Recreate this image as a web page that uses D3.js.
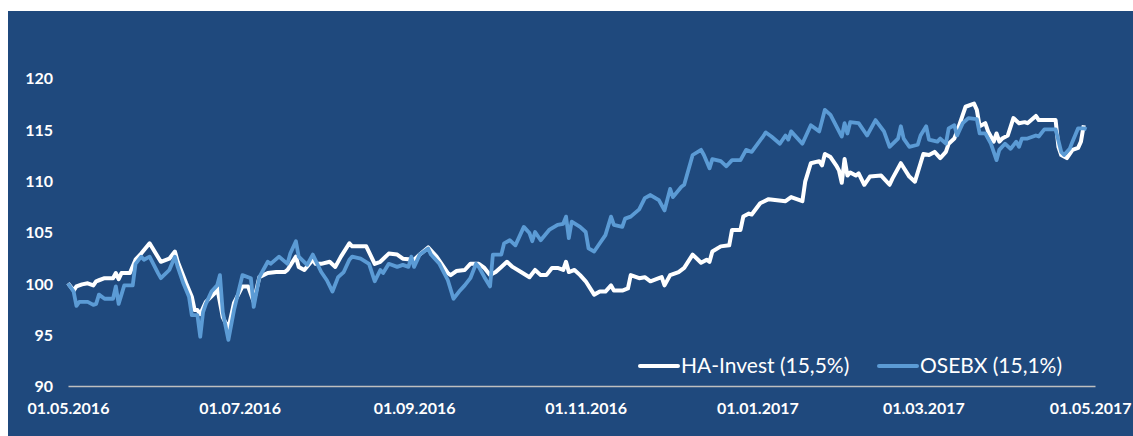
<!DOCTYPE html>
<html>
<head>
<meta charset="utf-8">
<script src="https://d3js.org/d3.v7.min.js"></script>
<style>
    body { margin: 0; background: #ffffff; }
    text { font-family: Lato, "Open Sans", sans-serif; }
</style>
</head>
<body>
<div id="chart"></div>
<script>
/* * * * * * * * * * * * * *
*          DATA             *
* * * * * * * * * * * * * */

var seriesNames = ["HA-Invest (15,5%)", "OSEBX (15,1%)"];

var haDates = [
    "01.05.2016","03.05.2016","04.05.2016","06.05.2016","08.05.2016","10.05.2016","11.05.2016","12.05.2016","14.05.2016","17.05.2016",
    "18.05.2016","19.05.2016","20.05.2016","23.05.2016","25.05.2016","27.05.2016","30.05.2016","03.06.2016","06.06.2016","08.06.2016",
    "09.06.2016","12.06.2016","14.06.2016","15.06.2016","16.06.2016","17.06.2016","19.06.2016","22.06.2016","23.06.2016","25.06.2016",
    "27.06.2016","29.06.2016","02.07.2016","04.07.2016","06.07.2016","08.07.2016","11.07.2016","14.07.2016","17.07.2016","18.07.2016",
    "21.07.2016","22.07.2016","24.07.2016","27.07.2016","28.07.2016","30.07.2016","02.08.2016","04.08.2016","06.08.2016","09.08.2016",
    "10.08.2016","13.08.2016","15.08.2016","18.08.2016","20.08.2016","23.08.2016","26.08.2016","28.08.2016","01.09.2016","03.09.2016",
    "06.09.2016","09.09.2016","13.09.2016","14.09.2016","16.09.2016","19.09.2016","21.09.2016","24.09.2016","26.09.2016","28.09.2016",
    "30.09.2016","02.10.2016","04.10.2016","06.10.2016","09.10.2016","12.10.2016","14.10.2016","16.10.2016","18.10.2016","20.10.2016",
    "22.10.2016","24.10.2016","25.10.2016","26.10.2016","28.10.2016","30.10.2016","01.11.2016","04.11.2016","06.11.2016","08.11.2016",
    "10.11.2016","11.11.2016","14.11.2016","16.11.2016","17.11.2016","20.11.2016","22.11.2016","24.11.2016","27.11.2016","28.11.2016",
    "29.11.2016","01.12.2016","04.12.2016","06.12.2016","09.12.2016","12.12.2016","14.12.2016","15.12.2016","16.12.2016","19.12.2016",
    "22.12.2016","23.12.2016","26.12.2016","27.12.2016","29.12.2016","30.12.2016","02.01.2017","05.01.2017","08.01.2017","11.01.2017",
    "13.01.2017","17.01.2017","18.01.2017","20.01.2017","23.01.2017","24.01.2017","25.01.2017","27.01.2017","29.01.2017","30.01.2017",
    "31.01.2017","01.02.2017","02.02.2017","03.02.2017","05.02.2017","06.02.2017","08.02.2017","10.02.2017","14.02.2017","17.02.2017",
    "18.02.2017","21.02.2017","24.02.2017","26.02.2017","01.03.2017","03.03.2017","05.03.2017","07.03.2017","09.03.2017","10.03.2017",
    "12.03.2017","13.03.2017","15.03.2017","16.03.2017","19.03.2017","20.03.2017","21.03.2017","23.03.2017","24.03.2017","26.03.2017",
    "27.03.2017","28.03.2017","29.03.2017","31.03.2017","02.04.2017","04.04.2017","06.04.2017","07.04.2017","10.04.2017","11.04.2017",
    "15.04.2017","17.04.2017","18.04.2017","19.04.2017","21.04.2017","23.04.2017","25.04.2017","26.04.2017","27.04.2017"
];
var haValues = [
    100.0, 99.3, 99.7, 99.9, 100.0, 99.8, 100.2, 100.3, 100.5, 100.5,
    101.0, 100.4, 101.0, 101.0, 102.3, 102.9, 103.9, 102.1, 102.4, 103.1,
    102.1, 100.0, 98.7, 97.4, 97.4, 97.0, 98.2, 99.0, 99.6, 96.7,
    95.6, 98.1, 99.7, 99.7, 98.2, 100.6, 101.0, 101.1, 101.1, 101.3,
    102.6, 101.6, 101.3, 102.3, 101.9, 101.9, 102.1, 101.6, 102.6, 103.9,
    103.6, 103.6, 103.6, 101.9, 102.1, 102.9, 102.8, 102.4, 102.3, 102.8,
    103.5, 102.6, 101.0, 100.8, 101.2, 101.3, 101.9, 101.9, 101.5, 100.8,
    101.1, 101.6, 102.1, 101.6, 101.1, 100.6, 101.3, 100.8, 100.8, 101.5,
    101.5, 101.3, 102.1, 101.1, 101.3, 100.8, 100.2, 98.9, 99.2, 99.2,
    99.8, 99.3, 99.3, 99.5, 100.8, 100.5, 100.6, 100.2, 100.5, 100.6,
    99.8, 100.8, 101.1, 101.5, 102.8, 102.0, 102.3, 102.1, 103.1, 103.6,
    103.7, 105.2, 105.2, 106.5, 106.8, 106.7, 107.8, 108.2, 108.1, 108.0,
    108.4, 108.0, 109.9, 111.7, 111.9, 111.5, 112.6, 112.3, 111.5, 111.0,
    109.8, 112.1, 110.5, 110.8, 110.5, 110.7, 109.6, 110.4, 110.5, 109.6,
    110.2, 111.7, 110.4, 109.9, 112.6, 112.5, 112.8, 112.2, 112.8, 113.6,
    114.1, 114.8, 116.4, 117.2, 117.5, 116.9, 115.3, 115.6, 114.8, 113.8,
    114.6, 113.8, 114.1, 114.4, 116.1, 115.6, 115.7, 115.6, 116.3, 115.9,
    115.9, 115.9, 113.3, 112.5, 112.2, 113.0, 113.2, 113.8, 115.4
];

var osebxDates = [
    "01.05.2016","03.05.2016","04.05.2016","05.05.2016","08.05.2016","10.05.2016","11.05.2016","12.05.2016","14.05.2016","17.05.2016",
    "18.05.2016","19.05.2016","21.05.2016","24.05.2016","25.05.2016","27.05.2016","28.05.2016","30.05.2016","02.06.2016","03.06.2016",
    "06.06.2016","08.06.2016","09.06.2016","11.06.2016","13.06.2016","14.06.2016","16.06.2016","17.06.2016","18.06.2016","19.06.2016",
    "21.06.2016","23.06.2016","24.06.2016","25.06.2016","27.06.2016","29.06.2016","02.07.2016","05.07.2016","06.07.2016","08.07.2016",
    "11.07.2016","12.07.2016","15.07.2016","18.07.2016","19.07.2016","21.07.2016","22.07.2016","25.07.2016","27.07.2016","30.07.2016",
    "01.08.2016","03.08.2016","05.08.2016","07.08.2016","09.08.2016","10.08.2016","13.08.2016","16.08.2016","18.08.2016","20.08.2016",
    "21.08.2016","23.08.2016","26.08.2016","28.08.2016","30.08.2016","31.08.2016","01.09.2016","03.09.2016","06.09.2016","07.09.2016",
    "10.09.2016","13.09.2016","14.09.2016","15.09.2016","17.09.2016","19.09.2016","21.09.2016","23.09.2016","24.09.2016","26.09.2016",
    "28.09.2016","29.09.2016","02.10.2016","03.10.2016","05.10.2016","07.10.2016","10.10.2016","12.10.2016","13.10.2016","14.10.2016",
    "16.10.2016","19.10.2016","22.10.2016","24.10.2016","25.10.2016","26.10.2016","27.10.2016","30.10.2016","01.11.2016","02.11.2016",
    "04.11.2016","06.11.2016","08.11.2016","10.11.2016","11.11.2016","14.11.2016","15.11.2016","17.11.2016","20.11.2016","22.11.2016",
    "24.11.2016","27.11.2016","29.11.2016","01.12.2016","02.12.2016","05.12.2016","06.12.2016","09.12.2016","12.12.2016","13.12.2016",
    "15.12.2016","16.12.2016","19.12.2016","21.12.2016","23.12.2016","26.12.2016","28.12.2016","30.12.2016","03.01.2017","04.01.2017",
    "06.01.2017","09.01.2017","11.01.2017","12.01.2017","13.01.2017","17.01.2017","20.01.2017","23.01.2017","25.01.2017","27.01.2017",
    "31.01.2017","01.02.2017","02.02.2017","03.02.2017","06.02.2017","09.02.2017","12.02.2017","15.02.2017","17.02.2017","20.02.2017",
    "21.02.2017","22.02.2017","24.02.2017","27.02.2017","28.02.2017","02.03.2017","03.03.2017","06.03.2017","07.03.2017","09.03.2017",
    "10.03.2017","12.03.2017","13.03.2017","15.03.2017","17.03.2017","20.03.2017","21.03.2017","23.03.2017","25.03.2017","27.03.2017",
    "28.03.2017","30.03.2017","01.04.2017","03.04.2017","04.04.2017","05.04.2017","07.04.2017","09.04.2017","10.04.2017","11.04.2017",
    "13.04.2017","17.04.2017","19.04.2017","20.04.2017","22.04.2017","23.04.2017","25.04.2017","27.04.2017","28.04.2017"
];
var osebxValues = [
    100.0, 99.2, 97.8, 98.2, 98.2, 97.9, 98.0, 98.9, 98.5, 98.5,
    99.7, 98.0, 99.8, 99.8, 101.9, 102.6, 102.3, 102.6, 101.0, 100.5,
    101.3, 102.6, 101.6, 100.0, 98.7, 96.9, 96.9, 94.8, 97.2, 98.0,
    99.2, 99.8, 100.8, 97.2, 94.5, 97.4, 100.8, 100.5, 97.7, 100.6,
    102.1, 101.9, 102.6, 101.9, 102.9, 104.1, 102.6, 101.8, 102.8, 101.1,
    100.3, 99.2, 100.6, 101.1, 102.3, 102.6, 102.4, 101.9, 100.2, 101.3,
    101.0, 101.9, 101.6, 101.8, 101.6, 102.6, 101.6, 102.8, 103.4, 102.8,
    101.9, 100.3, 99.4, 98.5, 99.2, 99.8, 100.5, 101.9, 101.6, 100.6,
    99.7, 102.8, 102.8, 103.9, 104.2, 103.7, 105.5, 104.9, 104.1, 105.0,
    104.2, 105.2, 105.7, 105.8, 106.5, 104.4, 106.0, 105.5, 105.0, 103.4,
    103.1, 103.9, 104.7, 106.5, 105.7, 105.5, 106.3, 106.5, 107.2, 108.3,
    108.6, 108.1, 107.1, 109.2, 108.4, 109.4, 109.6, 112.5, 113.0, 112.5,
    111.2, 112.1, 111.9, 111.4, 112.0, 112.0, 113.0, 112.8, 114.3, 114.7,
    114.3, 113.6, 114.4, 114.0, 114.8, 113.6, 115.4, 114.8, 116.9, 116.4,
    114.3, 115.6, 114.6, 115.7, 115.6, 114.4, 115.9, 114.8, 113.3, 114.1,
    115.3, 114.1, 113.3, 113.5, 114.4, 115.3, 114.0, 113.8, 114.1, 113.6,
    115.1, 115.4, 114.4, 115.6, 116.1, 116.0, 114.6, 114.6, 113.6, 112.0,
    113.0, 113.6, 113.1, 113.8, 113.3, 114.1, 114.1, 114.3, 114.4, 114.3,
    115.0, 115.0, 112.8, 112.5, 113.1, 113.8, 115.1, 115.1, 115.0
];

var yTicks = [90, 95, 100, 105, 110, 115, 120];
var xTicks = ["01.05.2016", "01.07.2016", "01.09.2016", "01.11.2016", "01.01.2017", "01.03.2017", "01.05.2017"];

/* * * * * * * * * * * * * *
*          CHART            *
* * * * * * * * * * * * * */

var width = 1133, height = 436;
var parseDate = d3.timeParse("%d.%m.%Y");
var formatDate = d3.timeFormat("%d.%m.%Y");

var svg = d3.select("#chart")
    .append("svg")
    .attr("width", width)
    .attr("height", height);

// dark blue panel
svg.append("rect")
    .attr("x", 8)
    .attr("y", 11)
    .attr("width", width - 8)
    .attr("height", height - 11)
    .attr("fill", "#1F497D");

var x = d3.scaleTime()
    .domain([parseDate(xTicks[0]), parseDate(xTicks[xTicks.length - 1])])
    .range([68, 1095]);

var y = d3.scaleLinear()
    .domain([90, 120])
    .range([386, 78]);

// Y axis (labels only)
var yAxis = svg.append("g")
    .attr("transform", "translate(53,0)")
    .call(d3.axisLeft(y).tickValues(yTicks).tickSize(0).tickPadding(0));
yAxis.select(".domain").remove();
yAxis.selectAll("text")
    .attr("fill", "#ffffff")
    .style("font-size", "16px")
    .style("font-weight", "bold")
    .attr("dy", "0.36em");

// X axis (baseline + date labels)
var xAxis = svg.append("g")
    .attr("transform", "translate(0," + y(90) + ")")
    .call(d3.axisBottom(x)
        .tickValues(xTicks.map(parseDate))
        .tickFormat(formatDate)
        .tickSize(0)
        .tickSizeOuter(0));
xAxis.select(".domain")
    .attr("stroke", "#bfbfbf")
    .attr("stroke-width", 1.5);
xAxis.selectAll("text")
    .attr("fill", "#ffffff")
    .attr("y", 28)
    .attr("dy", 0)
    .style("font-size", "16px")
    .style("font-weight", "bold");

// last label is pushed in so it fits inside the panel
xAxis.selectAll(".tick:last-of-type text")
    .attr("text-anchor", "end")
    .attr("x", 36);

// lines
var line = d3.line()
    .x(function(d) { return x(d.date); })
    .y(function(d) { return y(d.value); });

var haData = haDates.map(function(d, i) { return {date: parseDate(d), value: haValues[i]}; });
var osebxData = osebxDates.map(function(d, i) { return {date: parseDate(d), value: osebxValues[i]}; });

svg.append("path")
    .datum(haData)
    .attr("fill", "none")
    .attr("stroke", "#ffffff")
    .attr("stroke-width", 4)
    .attr("stroke-linejoin", "round")
    .attr("d", line);

svg.append("path")
    .datum(osebxData)
    .attr("fill", "none")
    .attr("stroke", "#5B9BD5")
    .attr("stroke-width", 3.8)
    .attr("stroke-linejoin", "round")
    .attr("d", line);

// legend
var legendX = [640, 879];
var legendColors = ["#ffffff", "#5B9BD5"];
var legend = svg.selectAll(".legend")
    .data(seriesNames)
    .enter()
    .append("g")
    .attr("class", "legend")
    .attr("transform", function(d, i) { return "translate(" + legendX[i] + ",366)"; });

legend.append("line")
    .attr("x1", 0)
    .attr("x2", 38)
    .attr("stroke", function(d, i) { return legendColors[i]; })
    .attr("stroke-width", 4)
    .attr("stroke-linecap", "round");

legend.append("text")
    .attr("x", 41)
    .attr("y", 7)
    .attr("fill", "#ffffff")
    .style("font-size", "21px")
    .text(function(d) { return d; });
</script>
</body>
</html>
